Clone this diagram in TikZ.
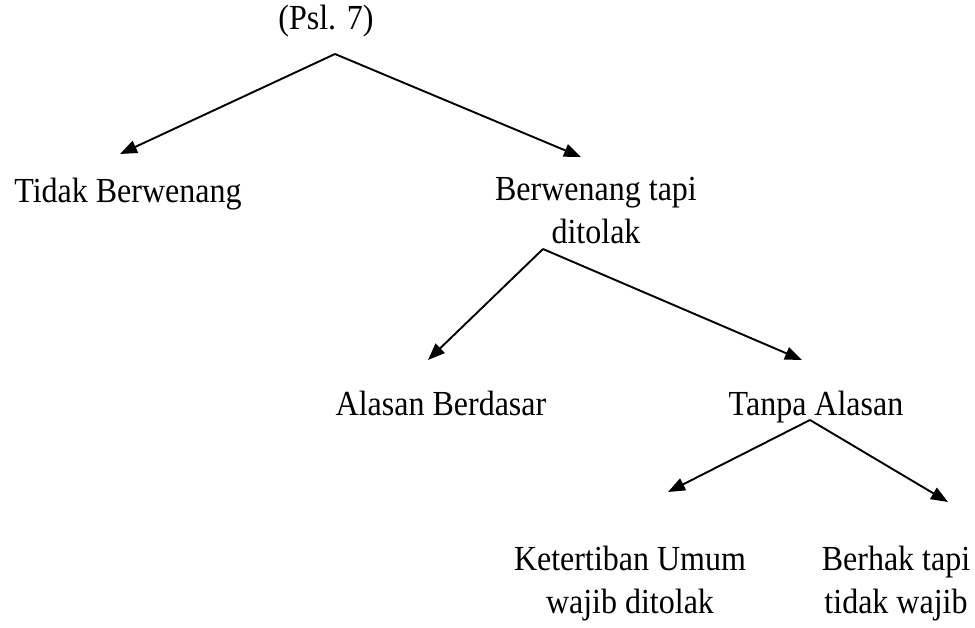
\documentclass[tikz,border=0pt]{standalone}
\usepackage{fontspec}
\setmainfont{Liberation Serif}
\usetikzlibrary{arrows.meta}
\begin{document}
\begin{tikzpicture}[x=1pt,y=-1pt,
  lbl/.style={inner sep=0pt,anchor=base,align=center,yscale=1.1,transform shape,font=\fontsize{32}{39}\selectfont},
  arr/.style={line width=1.9pt,-{Triangle[length=17pt,width=13pt]}}]
\useasboundingbox (0,0) rectangle (975,627);
\node[lbl] (root) at (326,29) {(Psl. 7)};
\node[lbl] (tb) at (128,202) {Tidak Berwenang};
\node[lbl] (bt) at (596,243) {Berwenang tapi\\ditolak};
\node[lbl] (ab) at (441,415) {Alasan Berdasar};
\node[lbl] (ta) at (816,415) {Tanpa Alasan};
\node[lbl] (ku) at (630,613) {Ketertiban Umum\\wajib ditolak};
\node[lbl] (bk) at (896,613) {Berhak tapi\\tidak wajib};
\coordinate (j1) at (335,54);
\coordinate (j2) at (543,249);
\coordinate (j3) at (810,420);
\coordinate (t1) at (120,154);
\coordinate (t2) at (581,157);
\coordinate (t3) at (428,360);
\coordinate (t4) at (802,360);
\coordinate (t5) at (668,492);
\coordinate (t6) at (948,502);
\draw[arr] (j1) -- (t1);
\draw[arr] (j1) -- (t2);
\draw[arr] (j2) -- (t3);
\draw[arr] (j2) -- (t4);
\draw[arr] (j3) -- (t5);
\draw[arr] (j3) -- (t6);
\end{tikzpicture}
\end{document}
